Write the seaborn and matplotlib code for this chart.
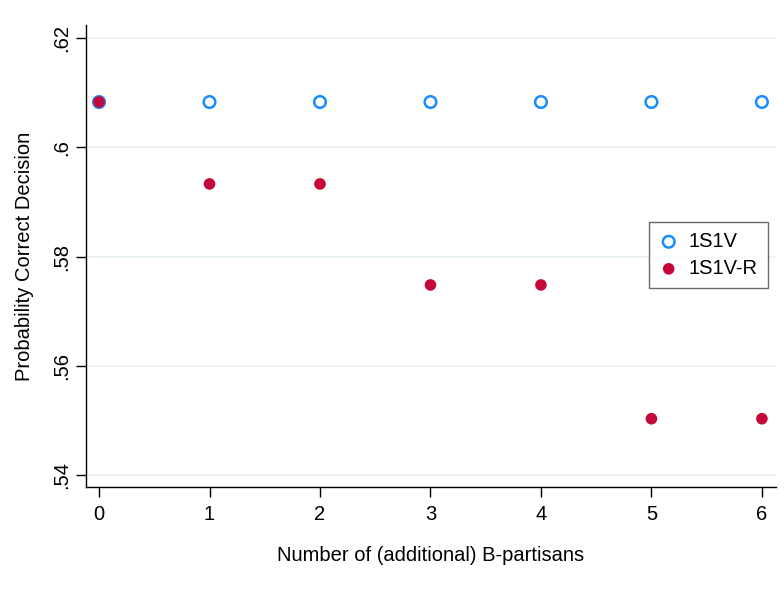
import numpy as np
import pandas as pd
import matplotlib
matplotlib.use("Agg")
import matplotlib.pyplot as plt
import seaborn as sns

partisans = [0, 1, 2, 3, 4, 5, 6]
p_1s1v = [0.6083, 0.6083, 0.6083, 0.6083, 0.6083, 0.6083, 0.6083]
p_1s1v_r = [0.6083, 0.5933, 0.5933, 0.5748, 0.5748, 0.5503, 0.5503]
yticks = [0.54, 0.56, 0.58, 0.60, 0.62]
ylabels = [".54", ".56", ".58", ".6", ".62"]

df = pd.DataFrame({"x": partisans, "a": p_1s1v, "b": p_1s1v_r})

sns.set_style("white")
plt.rcParams["font.family"] = ["Liberation Sans", "DejaVu Sans"]
plt.rcParams["text.color"] = "black"
plt.rcParams["axes.labelcolor"] = "black"
plt.rcParams["xtick.color"] = "black"
plt.rcParams["ytick.color"] = "black"

fs = 14.5

fig = plt.figure(figsize=(7.84, 6.07), dpi=100)
ax = fig.add_axes([0.1097, 0.1977, 0.88, 0.7611])

for y in yticks:
    ax.axhline(y, color="#eaf2f3", lw=1.2, zorder=0)

sns.scatterplot(data=df, x="x", y="a", ax=ax, marker="o", s=70,
                facecolor="none", edgecolor="#1a8cff", linewidth=1.8,
                label="1S1V", zorder=3)
sns.scatterplot(data=df, x="x", y="b", ax=ax, marker="o", s=70,
                color="#c4093a", edgecolor="none", linewidth=0,
                label="1S1V-R", zorder=4)

ax.set_xlim(-0.118, 6.127)
ax.set_ylim(0.5378, 0.6224)
ax.set_xticks(partisans)
ax.set_yticks(yticks)
ax.set_yticklabels(ylabels, rotation=90, va="center")
ax.tick_params(axis="x", labelsize=fs, length=7, width=1,
               direction="out", bottom=True, pad=6)
ax.tick_params(axis="y", labelsize=fs, length=7, width=1,
               direction="out", left=True, pad=4)

for s in ["top", "right"]:
    ax.spines[s].set_visible(False)
for s in ["left", "bottom"]:
    ax.spines[s].set_color("black")
    ax.spines[s].set_linewidth(1)

ax.set_xlabel("Number of (additional) B-partisans", fontsize=fs, labelpad=16)
ax.set_ylabel("Probability Correct Decision", fontsize=fs, labelpad=13)

leg = ax.legend(loc="center right", bbox_to_anchor=(1.003, 0.502), fontsize=fs,
                frameon=True, fancybox=False, handletextpad=0.5,
                borderpad=0.5, handlelength=1.0, labelspacing=0.4)
leg.get_frame().set_edgecolor("#444444")
leg.get_frame().set_linewidth(1)

fig.savefig("out.png", dpi=100)
